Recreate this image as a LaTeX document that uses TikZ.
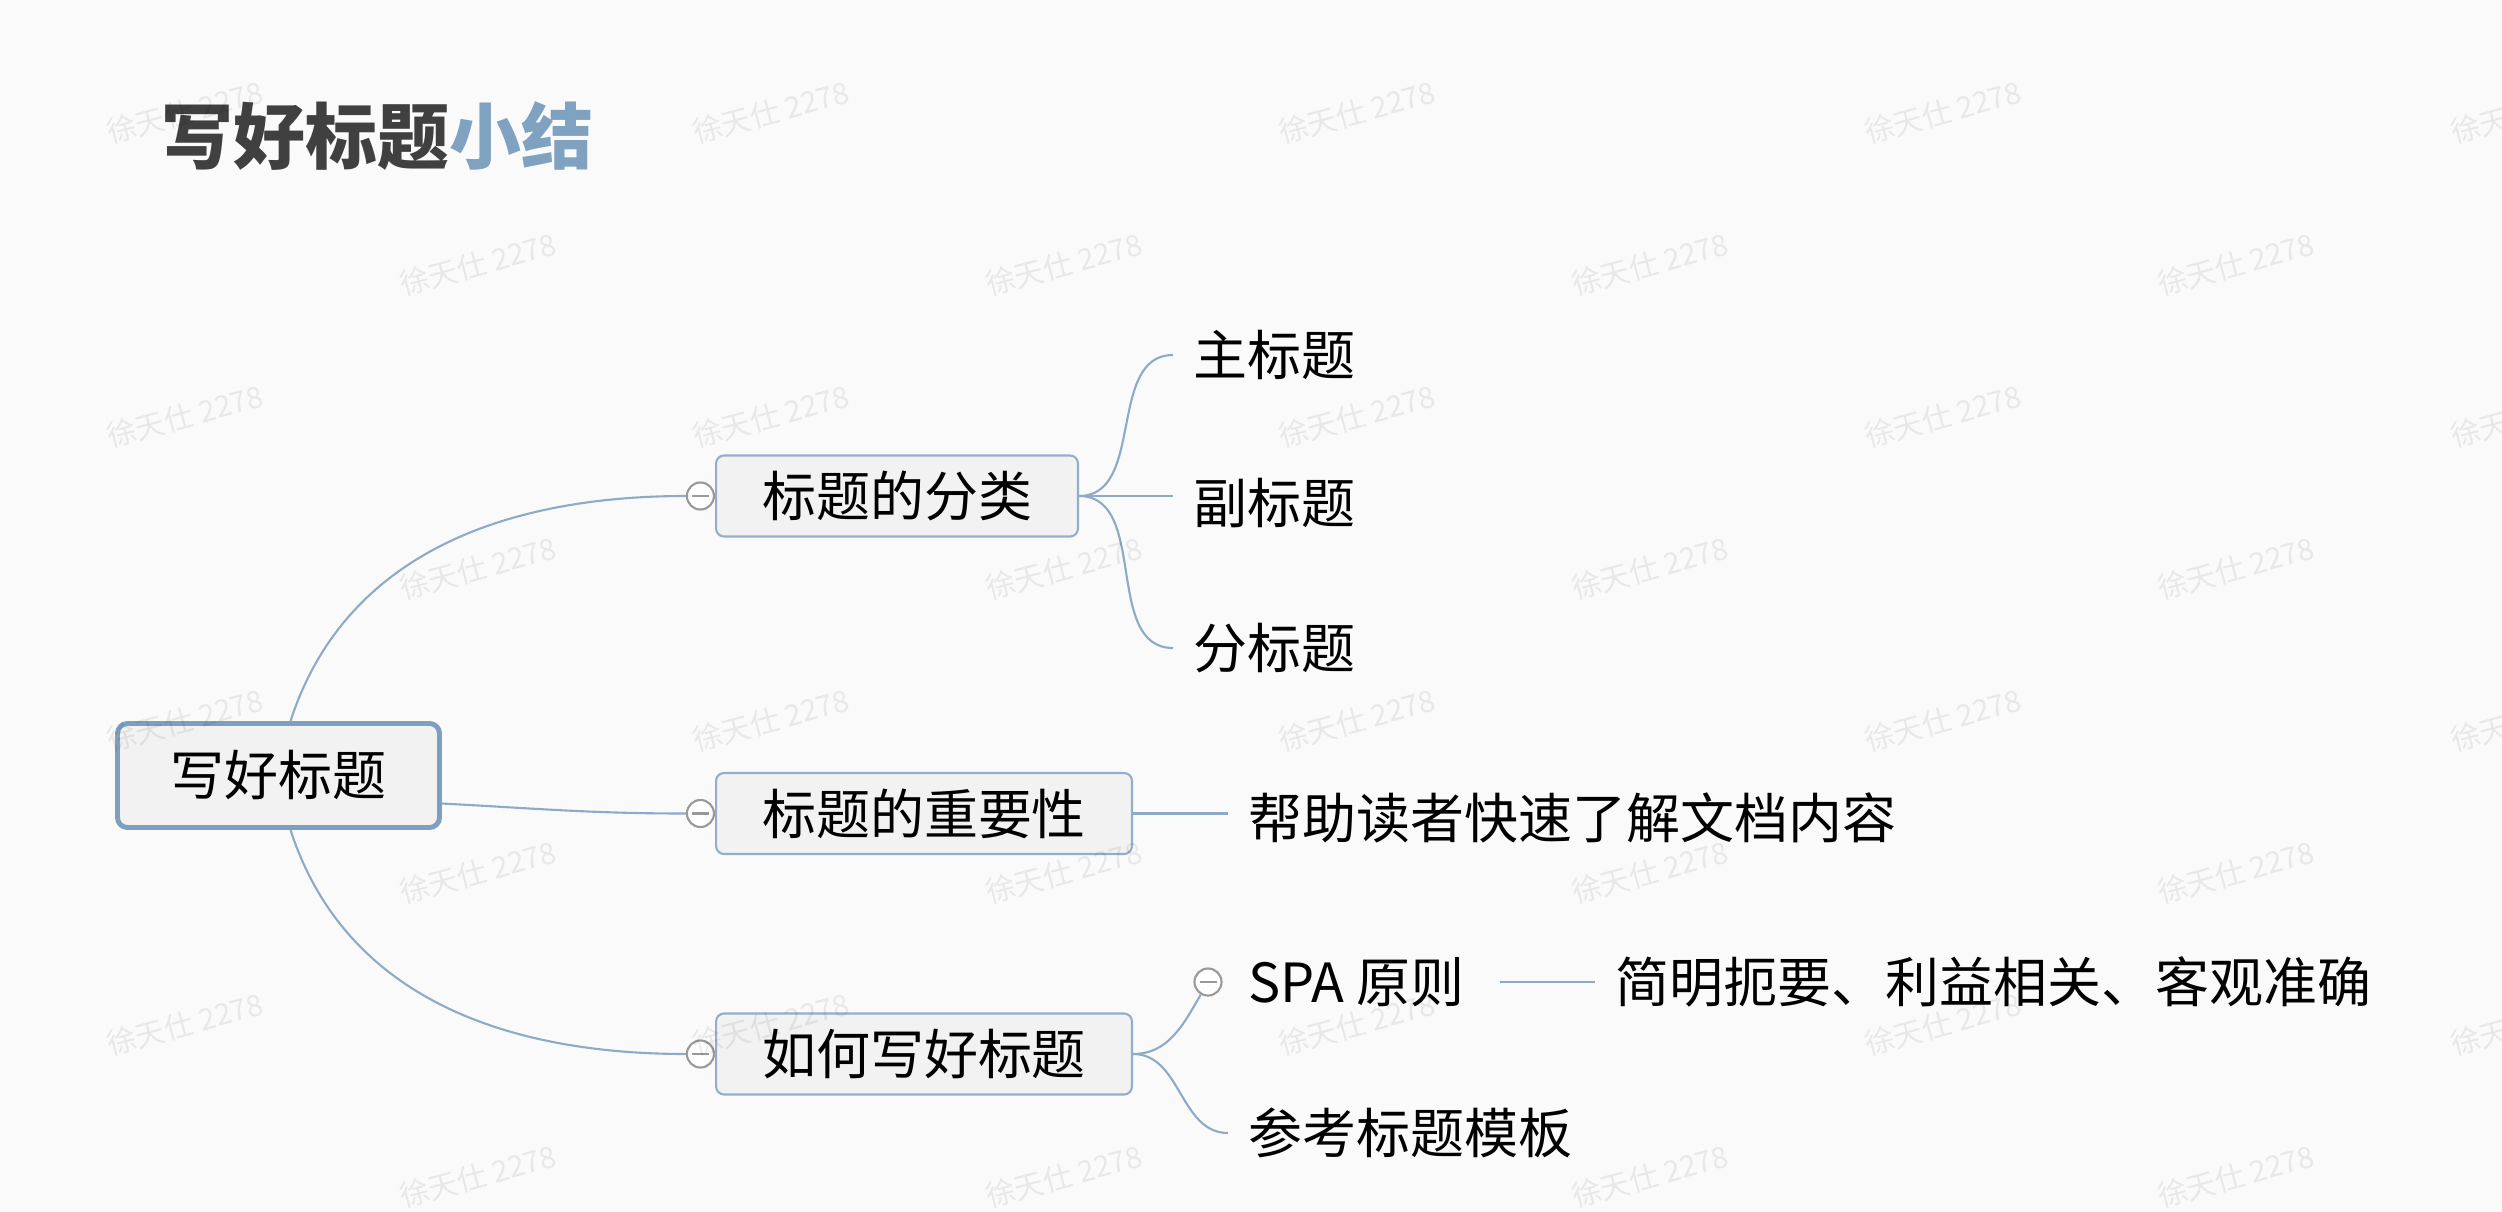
\documentclass[tikz,border=0pt]{standalone}
\usepackage{fontspec}
\setmainfont{Noto Sans CJK SC}
\usetikzlibrary{positioning}
\definecolor{linkblue}{HTML}{8DAAC8}
\definecolor{boxblue}{HTML}{93AECB}
\definecolor{rootblue}{HTML}{7F9FBF}
\definecolor{titlegray}{HTML}{404040}
\definecolor{titleblue}{HTML}{7FA2C0}
\definecolor{boxfill}{HTML}{F2F2F2}
\definecolor{pagebg}{HTML}{FAFAFA}
\definecolor{foldgray}{HTML}{999999}
\pgfdeclarelayer{background}
\pgfdeclarelayer{foreground}
\pgfsetlayers{background,main,foreground}

\begin{document}
\begin{tikzpicture}[x=0.01cm, y=0.01cm]
\tikzset{edge/.style = {draw=linkblue, line width=.6pt}}
\tikzset{rootbox/.style = {rectangle, rounded corners=.1cm, draw=rootblue, line width=1.4pt, fill=boxfill, minimum height=1.04cm, inner xsep=.53cm, font=\fontsize{15.35pt}{18pt}\selectfont}}
\tikzset{topicbox/.style = {rectangle, rounded corners=.08cm, draw=boxblue, line width=.6pt, fill=boxfill, minimum height=.81cm, inner xsep=.46cm, anchor=west, font=\fontsize{15.35pt}{18pt}\selectfont}}
\tikzset{leaf/.style = {inner xsep=.2cm, inner ysep=0pt, anchor=west, font=\fontsize{15.35pt}{18pt}\selectfont}}
\tikzset{fold/.style = {circle, draw=foldgray, line width=.6pt, fill=white, minimum size=.27cm, inner sep=0pt}}
\tikzset{foldbar/.style = {draw=foldgray, line width=.6pt}}
\tikzset{watermark/.style = {rotate=15, text=black, text opacity=.07, font=\fontsize{8.4pt}{10pt}\selectfont}}

\useasboundingbox (0,0) rectangle (2502,-1212);

\node[anchor=west, inner sep=0pt, font=\bfseries\fontsize{20.45pt}{24pt}\selectfont] (title) at (161,-136) {\textcolor{titlegray}{写好标题}\textcolor{titleblue}{小结}};

\node[rootbox] (root) at (278.5,-775.5) {写好标题};

\node[topicbox] (n1) at (715,-496) {标题的分类};
\node[topicbox] (n2) at (715,-813.5) {标题的重要性};
\node[topicbox] (n3) at (715,-1054) {如何写好标题};

\node[fold, left=0pt of n1] (c1) {};
\node[fold, left=0pt of n2] (c2) {};
\node[fold, left=0pt of n3] (c3) {};

\node[leaf] (t1) at (1173,-355) {主标题};
\node[leaf] (t2) at (1173,-503) {副标题};
\node[leaf] (t3) at (1173,-648) {分标题};
\node[leaf] (t4) at (1228,-818) {帮助读者快速了解文档内容};

\node[fold] (c4) at (1208,-982) {};
\node[leaf, right=.05cm of c4] (spa) {SPA 原则};
\node[leaf, right=1.1cm of spa] (spadesc) {简明扼要、利益相关、客观准确};
\node[leaf] (t5) at (1228,-1133) {参考标题模板};

\foreach \c in {c1, c2, c3, c4}
  {\draw[foldbar] ([xshift=-.085cm]\c.center) -- ([xshift=.085cm]\c.center);}

\begin{pgfonlayer}{background}
\fill[pagebg] (0,0) rectangle (2502,-1212);

\draw[edge] ([xshift=.12cm]root.north) to[out=72, in=180] (c1.west);
\draw[edge] ([yshift=-.28cm]root.east) to[out=-3, in=180] (c2.west);
\draw[edge] ([xshift=.12cm]root.south) to[out=-72, in=180] (c3.west);

\draw[edge] (n1.east) to[out=0, in=180] (t1.west);
\draw[edge] (n1.east) -- (n1.east -| t2.west);
\draw[edge] (n1.east) to[out=0, in=180] (t3.west);

\draw[edge] (n2.east) -- (n2.east -| t4.west);

\draw[edge] (n3.east) to[out=0, in=240] (c4.240);
\draw[edge] (n3.east) to[out=0, in=180] (t5.west);
\draw[edge] ([xshift=.15cm]spa.east) -- (spadesc.west);
\end{pgfonlayer}

% watermark grid
\begin{pgfonlayer}{foreground}
\foreach \y in {112, 416, 720, 1024}
  \foreach \x in {185, 771, 1357, 1943, 2529}
    {\node[watermark] (wm-\x-\y) at (\x, -\y) {徐天仕 2278};}
\foreach \y in {264, 568, 872, 1176}
  \foreach \x in {478, 1064, 1650, 2236}
    {\node[watermark] (wm-\x-\y) at (\x, -\y) {徐天仕 2278};}
\end{pgfonlayer}

\end{tikzpicture}
\end{document}
